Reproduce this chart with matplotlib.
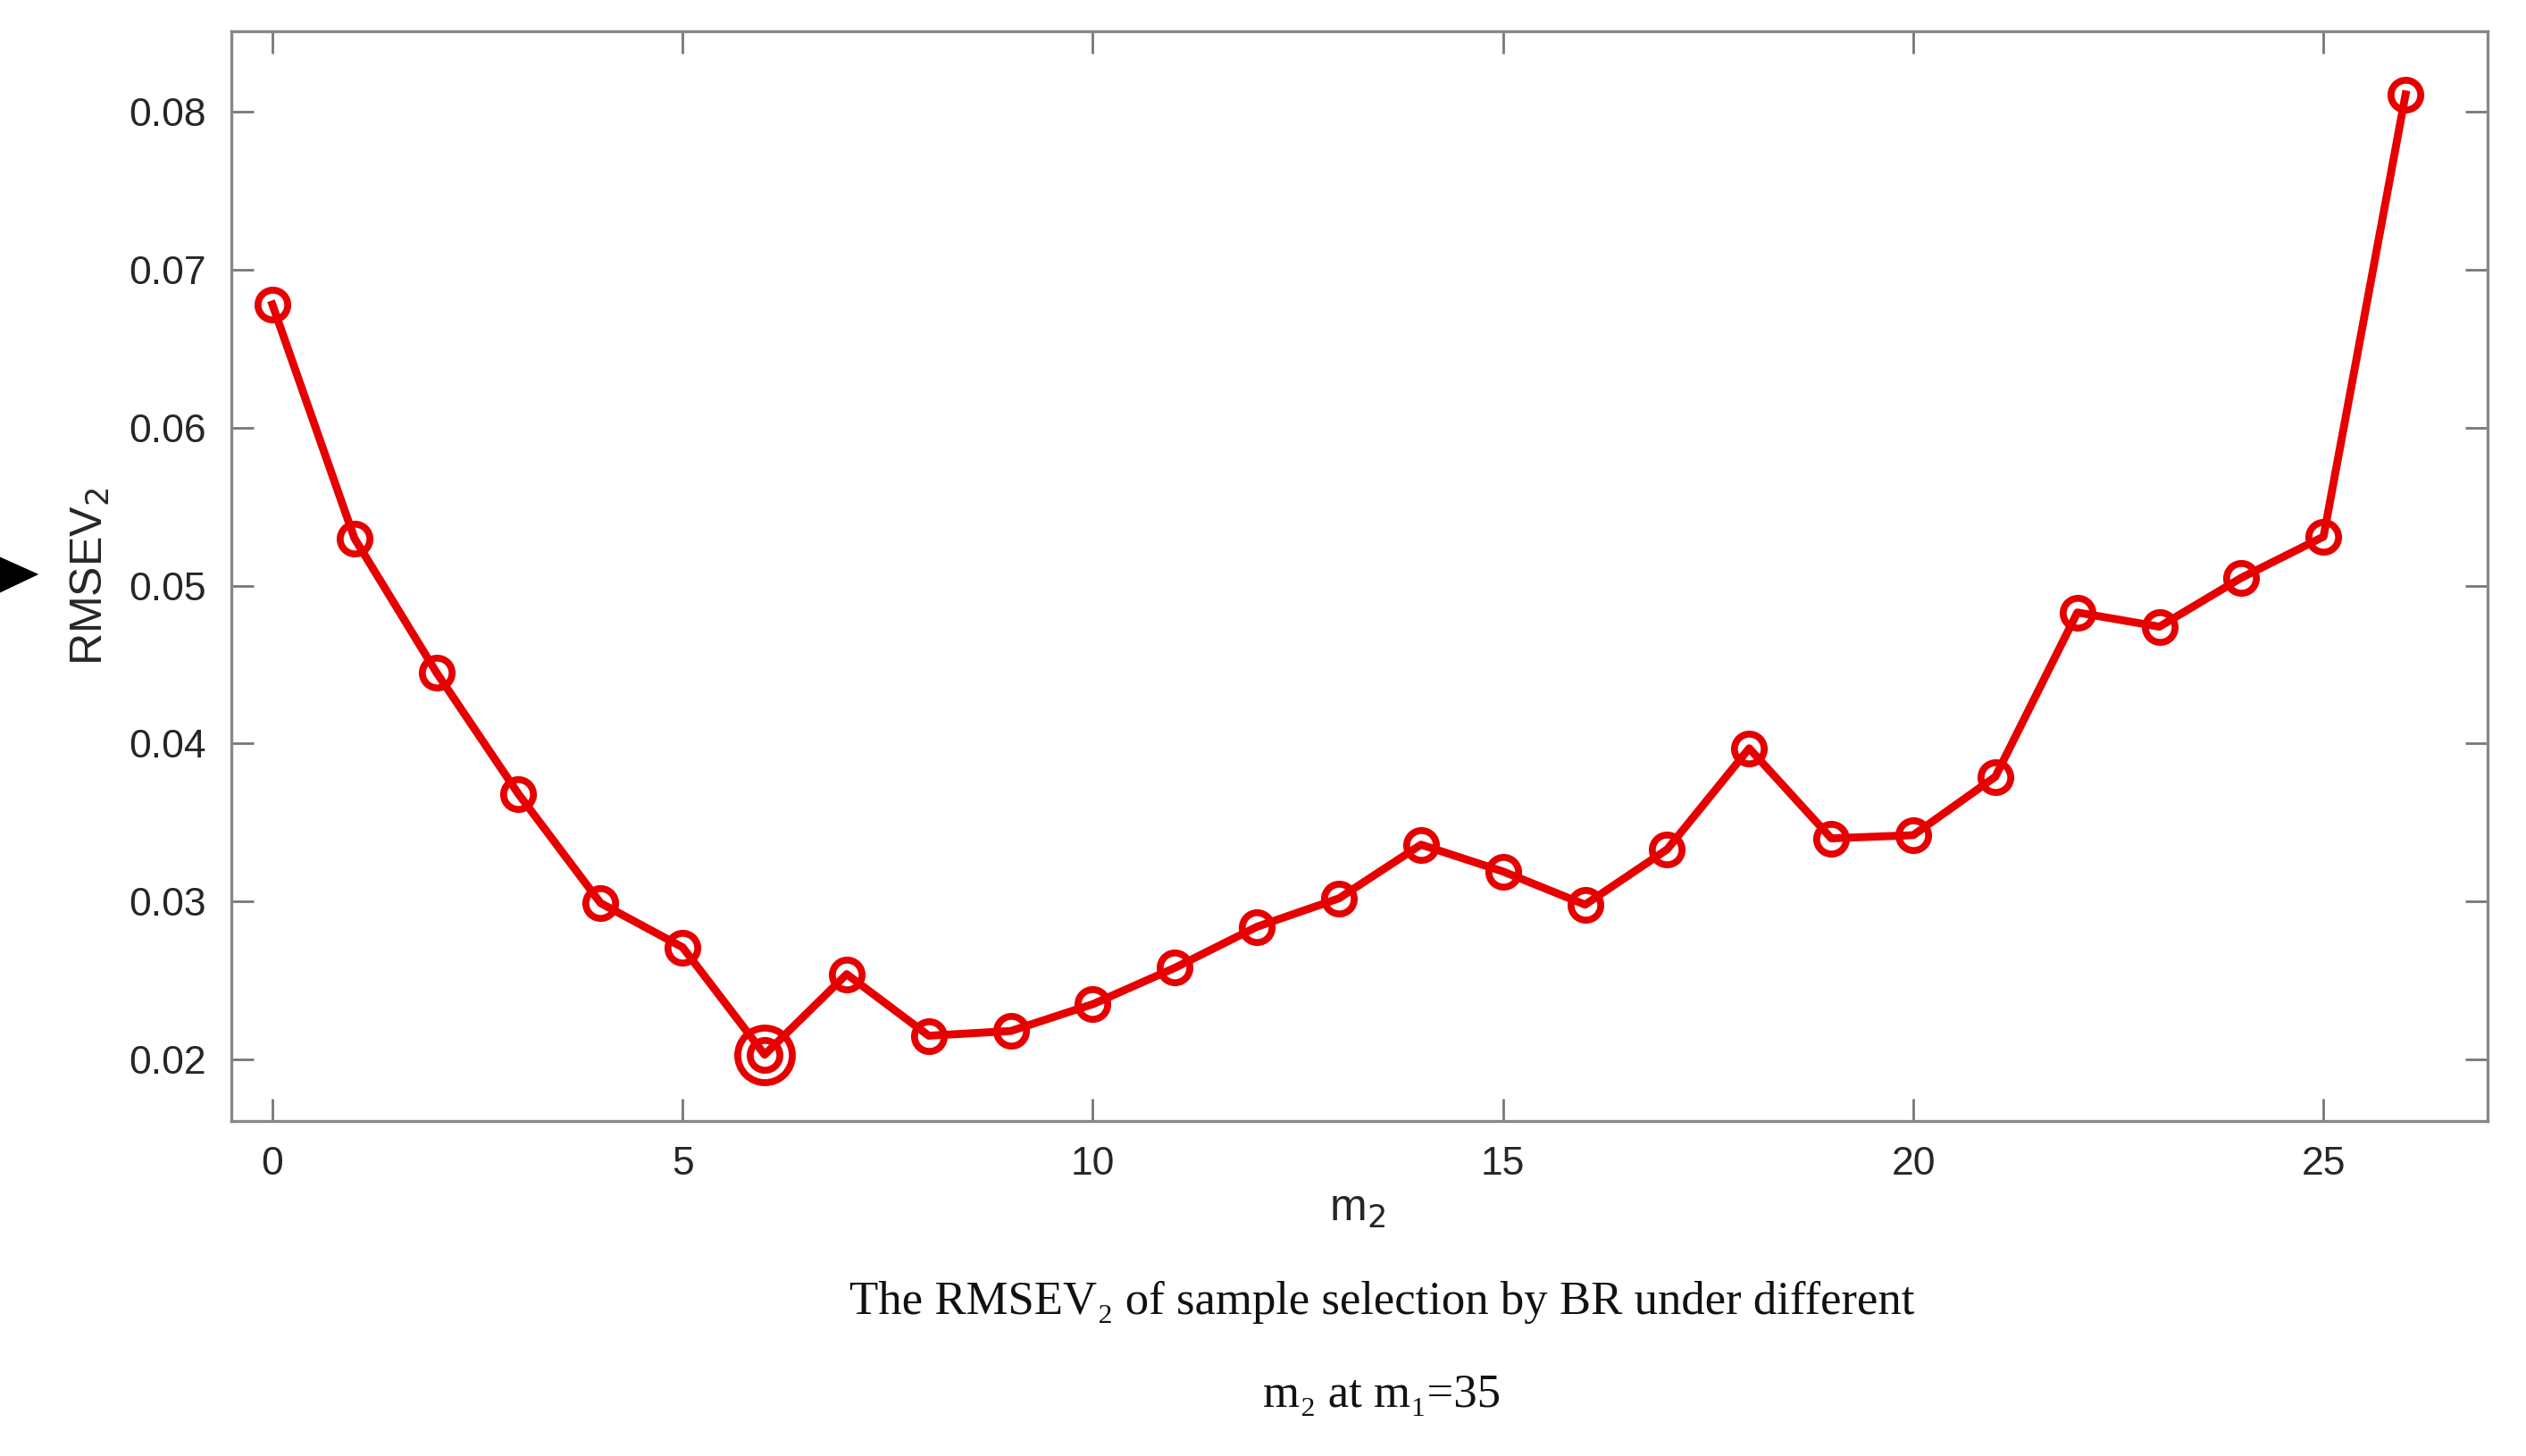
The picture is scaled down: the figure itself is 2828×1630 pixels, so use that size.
import matplotlib
matplotlib.use("Agg")
import matplotlib.pyplot as plt
from matplotlib.patches import Polygon

# ---- data ----
m2 = list(range(27))
rmsev2 = [0.0678, 0.0530, 0.0445, 0.0368, 0.0299, 0.0271, 0.0203, 0.0254,
          0.0215, 0.0218, 0.0235, 0.0258, 0.0284, 0.0302, 0.0336, 0.0319,
          0.0298, 0.0333, 0.0397, 0.0340, 0.0342, 0.0379, 0.0483, 0.0474,
          0.0505, 0.0531, 0.0811]
best_index = 6
xticks = [0, 5, 10, 15, 20, 25]
yticks = [0.02, 0.03, 0.04, 0.05, 0.06, 0.07, 0.08]
ytick_labels = ["0.02", "0.03", "0.04", "0.05", "0.06", "0.07", "0.08"]
caption1 = "The RMSEV\u2082 of sample selection by BR under different"
caption2 = "m\u2082 at m\u2081=35"

W, H = 2828, 1630
DPI = 200
fig = plt.figure(figsize=(W / DPI, H / DPI), dpi=DPI)
ax = fig.add_axes([259 / W, 1 - 1255 / H, (2785 - 259) / W, (1255 - 35) / H])

red = "#e60000"
ax.plot(m2, rmsev2, color=red, lw=3.2, marker="o", ms=12, mfc="none",
        mec=red, mew=2.8, zorder=3)
ax.plot([m2[best_index]], [rmsev2[best_index]], linestyle="none", marker="o",
        ms=22, mfc="none", mec=red, mew=2.8, zorder=4)

ax.set_xlim(-0.5, 27)
ax.set_ylim(0.0161, 0.0851)
ax.set_xticks(xticks)
ax.set_yticks(yticks)
ax.set_yticklabels(ytick_labels)

sans = ["Liberation Sans", "DejaVu Sans"]
for lab in ax.get_xticklabels() + ax.get_yticklabels():
    lab.set_fontfamily(sans)
    lab.set_fontsize(16)
    lab.set_color("#262626")

ax.tick_params(direction="in", length=9, width=1.0, color="#777777",
               top=True, right=True, pad=10)
for s in ax.spines.values():
    s.set_color("#888888")
    s.set_linewidth(1.2)

plt.rcParams["mathtext.fontset"] = "custom"
plt.rcParams["mathtext.rm"] = "Liberation Sans"
plt.rcParams["mathtext.it"] = "Liberation Sans"
ax.set_ylabel(r"RMSEV$_2$", fontsize=18, family=sans, color="#262626")
ax.yaxis.set_label_coords((125 - 259) / (2785 - 259), 0.5)
ax.set_xlabel(r"m$_2$", fontsize=18, family=sans, color="#262626")
ax.xaxis.set_label_coords(0.499, -0.062)

serif = ["Liberation Serif", "DejaVu Serif"]
fig.text(1547 / W, 1 - 1458 / H, caption1, ha="center", va="center",
         fontsize=19, family=serif, color="#111111")
fig.text(1547 / W, 1 - 1562 / H, caption2, ha="center", va="center",
         fontsize=19, family=serif, color="#111111")

tri = Polygon([(0, 1 - 625 / H), (0, 1 - 662 / H), (40 / W, 1 - 643 / H)],
              closed=True, transform=fig.transFigure, color="black")
fig.patches.append(tri)

fig.savefig("out.png", dpi=DPI)
